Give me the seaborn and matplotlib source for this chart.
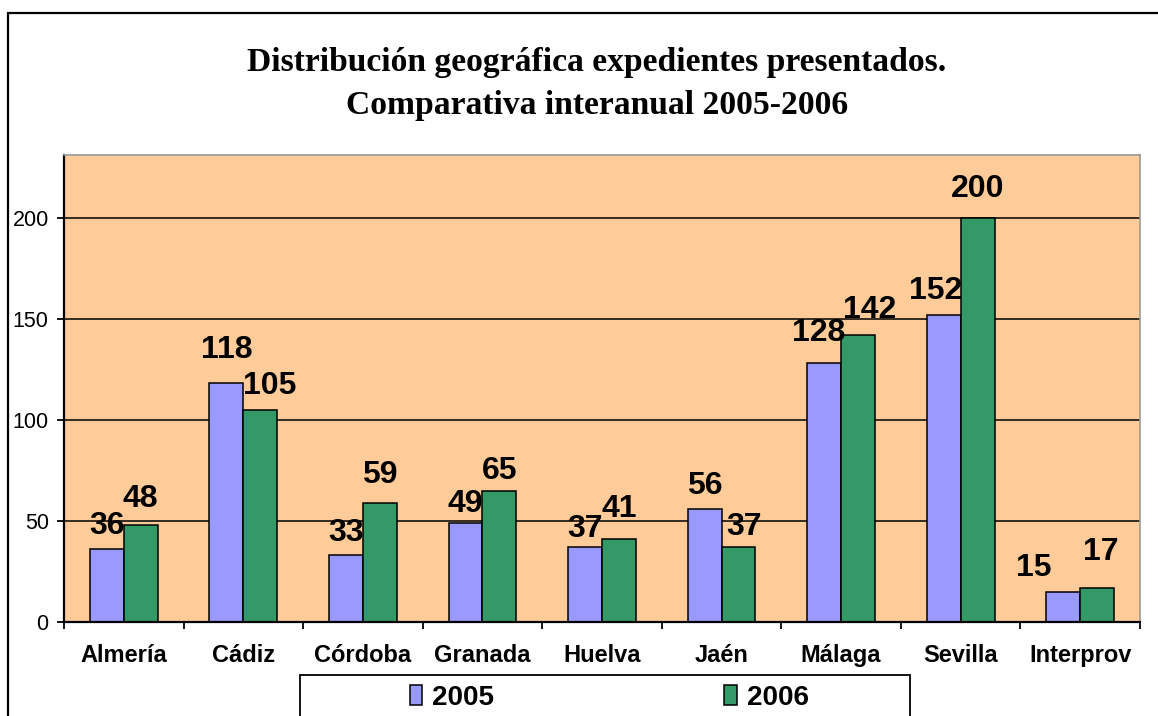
import matplotlib
matplotlib.use("Agg")
import matplotlib.pyplot as plt
import matplotlib.patches as mpatches
import seaborn as sns
import pandas as pd

categories = ["Almería", "Cádiz", "Córdoba", "Granada", "Huelva", "Jaén", "Málaga", "Sevilla", "Interprov"]
values_2005 = [36, 118, 33, 49, 37, 56, 128, 152, 15]
values_2006 = [48, 105, 59, 65, 41, 37, 142, 200, 17]
series_names = ["2005", "2006"]
y_ticks = [0, 50, 100, 150, 200]
title_lines = ["Distribución geográfica expedientes presentados.", "Comparativa interanual 2005-2006"]

colors = {"2005": "#9999FF", "2006": "#339966"}

df = pd.DataFrame({
    "region": categories * 2,
    "year": [series_names[0]] * len(categories) + [series_names[1]] * len(categories),
    "value": values_2005 + values_2006,
})

sns.set_theme(style="white")
plt.rcParams["font.family"] = ["Liberation Sans", "DejaVu Sans"]
plt.rcParams["text.color"] = "black"
plt.rcParams["axes.labelcolor"] = "black"
plt.rcParams["xtick.color"] = "black"
plt.rcParams["ytick.color"] = "black"

W, H = 1158, 716
fig = plt.figure(figsize=(W / 100, H / 100), dpi=100)
fig.patch.set_facecolor("white")

ax = fig.add_axes([64 / W, 1 - 622 / H, (1140 - 64) / W, (622 - 155) / H])
sns.barplot(data=df, x="region", y="value", hue="year", order=categories,
            hue_order=series_names, palette=colors, width=0.566,
            edgecolor="black", linewidth=1.1, saturation=1, ax=ax, legend=False)

ax.set_facecolor("#FFCC99")
ax.set_xlim(-0.5, len(categories) - 0.5)
ax.set_ylim(0, 231)
ax.set_xlabel("")
ax.set_ylabel("")
ax.set_yticks(y_ticks)
ax.set_yticklabels([str(v) for v in y_ticks], fontsize=15.5, color="black")
ax.yaxis.grid(True, color="black", linewidth=1.1)
ax.set_axisbelow(True)

ax.set_xticks([i - 0.5 for i in range(len(categories) + 1)])
ax.set_xticklabels([])
ax.set_xticks(range(len(categories)), minor=True)
ax.set_xticklabels(categories, minor=True, fontsize=17, fontweight="bold", color="black")
ax.tick_params(axis="x", which="major", direction="out", length=5, width=1.3, color="black", bottom=True)
ax.tick_params(axis="x", which="minor", length=0, pad=16)
ax.tick_params(axis="y", direction="out", length=5, width=1.3, color="black", left=True, pad=6)

for side in ["left", "bottom"]:
    ax.spines[side].set_color("black")
    ax.spines[side].set_linewidth(1.6)
for side in ["top", "right"]:
    ax.spines[side].set_color("#999999")
    ax.spines[side].set_linewidth(1.2)

# value labels: small (dx, dy) point nudges mimic the original label placement
nudges = {
    (1, 0): (0, 2), (0, 1): (0, 7), (1, 1): (6.5, 0), (0, 2): (0, -1), (1, 2): (0, 3),
    (0, 3): (0, -3), (1, 3): (0, -3), (0, 4): (0, -4), (1, 4): (0, 5),
    (1, 5): (4, -2), (0, 6): (-4, 5), (1, 6): (8, 1), (0, 7): (-6, 0), (1, 7): (0, 4),
    (0, 8): (-21, 0), (1, 8): (2.5, 9),
}
for si, vals in enumerate([values_2005, values_2006]):
    cont = ax.containers[si]
    for ci, (bar, v) in enumerate(zip(cont.patches, vals)):
        cx = bar.get_x() + bar.get_width() / 2
        dx, dy = nudges.get((si, ci), (0, 0))
        ax.annotate(str(v), xy=(cx, bar.get_height()), xytext=(dx, 11 + dy),
                    textcoords="offset points", ha="center", va="baseline",
                    fontsize=23, fontweight="bold", color="black")

# title
for line, ybase in zip(title_lines, [71, 114]):
    fig.text(597 / W, 1 - ybase / H, line, ha="center", va="baseline",
             fontsize=24.2, fontweight="bold", family="Liberation Serif", color="black")

# legend
handles = [mpatches.Rectangle((0, 0), 1, 1, facecolor=colors[n], edgecolor="black", linewidth=1.1)
           for n in series_names]
leg = fig.legend(handles, series_names, loc="center", bbox_to_anchor=(609 / W, 1 - 698 / H),
                 ncol=2, frameon=False, handlelength=0.45, handleheight=0.75,
                 handletextpad=0.35, columnspacing=8.3,
                 prop={"family": "Liberation Sans", "weight": "bold", "size": 20})
for t in leg.get_texts():
    t.set_color("black")

# legend box and outer chart border
fig.add_artist(mpatches.Rectangle((300 / W, -0.05), 610 / W, 0.05 + 1 - 675 / H,
                                  transform=fig.transFigure, facecolor="none",
                                  edgecolor="black", linewidth=1.3, zorder=0))
fig.add_artist(mpatches.Rectangle((8 / W, -0.1), 1.2, 0.1 + 1 - 13 / H,
                                  transform=fig.transFigure, facecolor="none",
                                  edgecolor="black", linewidth=1.6, zorder=0))

fig.savefig("out.png", dpi=100)
